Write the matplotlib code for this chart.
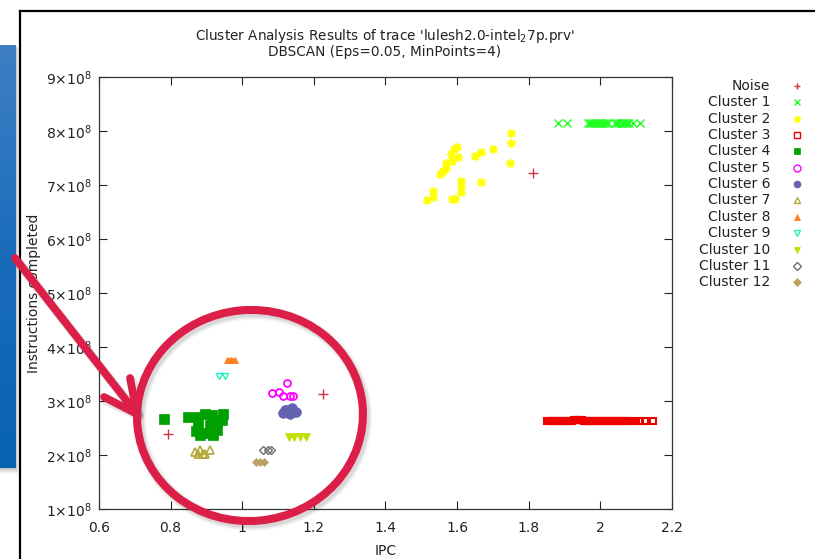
import numpy as np
import matplotlib
matplotlib.use("Agg")
import matplotlib.pyplot as plt
from matplotlib.patches import Ellipse, Rectangle
from matplotlib.colors import LinearSegmentedColormap

# ---------------- data (IPC, instructions in units of 1e8) ----------------
noise_x = [1.812, 1.226, 0.793]
noise_y = [7.22, 3.13, 2.39]

c1_x = [1.882, 1.907, 1.966, 1.970, 1.975, 1.980, 1.985, 1.990, 1.995, 2.000, 2.005, 2.010,
        2.015, 2.020, 2.040, 2.045, 2.050, 2.055, 2.060, 2.065, 2.070, 2.075, 2.080, 2.090,
        2.111]
c1_y = [8.15] * len(c1_x)

c2_x = [1.516, 1.533, 1.533, 1.586, 1.594, 1.611, 1.611, 1.611, 1.667, 1.552, 1.561, 1.569,
        1.569, 1.586, 1.583, 1.603, 1.591, 1.600, 1.650, 1.667, 1.700, 1.751, 1.751, 1.748]
c2_y = [6.72, 6.89, 6.78, 6.74, 6.74, 7.07, 6.98, 6.87, 7.06, 7.20, 7.26, 7.31,
        7.41, 7.44, 7.57, 7.52, 7.67, 7.70, 7.54, 7.61, 7.67, 7.96, 7.78, 7.41]

c3_x = [1.851, 1.855, 1.860, 1.865, 1.870, 1.875, 1.880, 1.885, 1.890, 1.895, 1.900, 1.905,
        1.910, 1.915, 1.920, 1.925, 1.930, 1.935, 1.940, 1.945, 1.950, 1.955, 1.960, 1.965,
        1.970, 1.975, 1.980, 1.985, 1.990, 1.995, 2.000, 2.005, 2.010, 2.015, 2.020, 2.025,
        2.030, 2.035, 2.040, 2.045, 2.050, 2.055, 2.060, 2.065, 2.070, 2.077, 2.088, 2.099,
        2.111, 2.125, 2.147]
c3_y = [2.63] * 15 + [2.65] * 6 + [2.63] * 30

c4_x = [0.782, 0.849, 0.876, 0.896, 0.916, 0.946, 0.943, 0.918, 0.910, 0.876, 0.882, 0.918,
        0.930, 0.902, 0.870, 0.925]
c4_y = [2.67, 2.70, 2.70, 2.76, 2.74, 2.76, 2.65, 2.61, 2.56, 2.52, 2.37, 2.37,
        2.46, 2.41, 2.45, 2.52]

c5_x = [1.125, 1.083, 1.103, 1.114, 1.133, 1.142]
c5_y = [3.33, 3.15, 3.17, 3.09, 3.09, 3.09]

c6_x = [1.119, 1.139, 1.133, 1.114, 1.150, 1.126]
c6_y = [2.83, 2.87, 2.76, 2.78, 2.80, 2.84]

c7_x = [0.868, 0.882, 0.896, 0.910, 0.876, 0.890]
c7_y = [2.06, 2.09, 2.02, 2.10, 2.01, 2.01]

c8_x = [0.957, 0.963, 0.969, 0.975, 0.980]
c8_y = [3.76, 3.76, 3.76, 3.76, 3.76]

c9_x = [0.935, 0.952]
c9_y = [3.46, 3.46]

c10_x = [1.131, 1.145, 1.161, 1.178]
c10_y = [2.33, 2.33, 2.33, 2.33]

c11_x = [1.058, 1.072, 1.080]
c11_y = [2.09, 2.09, 2.09]

c12_x = [1.038, 1.050, 1.061]
c12_y = [1.87, 1.87, 1.87]

labels = ["Noise", "Cluster 1", "Cluster 2", "Cluster 3", "Cluster 4", "Cluster 5",
          "Cluster 6", "Cluster 7", "Cluster 8", "Cluster 9", "Cluster 10",
          "Cluster 11", "Cluster 12"]
x_ticks = [0.6, 0.8, 1.0, 1.2, 1.4, 1.6, 1.8, 2.0, 2.2]
x_tick_labels = ["0.6", "0.8", "1", "1.2", "1.4", "1.6", "1.8", "2", "2.2"]
y_ticks = [1, 2, 3, 4, 5, 6, 7, 8, 9]

series = [
    (noise_x, noise_y, dict(marker="+", color="#cc3344", ms=6.5, mew=1.0, mfc="none")),
    (c1_x, c1_y, dict(marker="x", color="#22ff22", ms=5.5, mew=1.0, mfc="none")),
    (c2_x, c2_y, dict(marker=(8, 2, 0), color="#ffff00", ms=6.5, mew=1.0, mfc="none")),
    (c3_x, c3_y, dict(marker="s", color="#ee0000", ms=5, mew=1.5, mfc="none")),
    (c4_x, c4_y, dict(marker="s", color="#00a000", ms=6.8, mew=0.5, mfc="#00a000")),
    (c5_x, c5_y, dict(marker="o", color="#ff00ff", ms=5, mew=1.3, mfc="none")),
    (c6_x, c6_y, dict(marker="o", color="#6262b0", ms=7, mew=0.5, mfc="#6262b0")),
    (c7_x, c7_y, dict(marker="^", color="#b0a838", ms=5.5, mew=1.2, mfc="none")),
    (c8_x, c8_y, dict(marker="^", color="#ff8020", ms=5, mew=0.5, mfc="#ff8020")),
    (c9_x, c9_y, dict(marker="v", color="#20f0c0", ms=5, mew=1.0, mfc="none")),
    (c10_x, c10_y, dict(marker="v", color="#c0e000", ms=6, mew=0.5, mfc="#c0e000")),
    (c11_x, c11_y, dict(marker="D", color="#707070", ms=4.5, mew=1.0, mfc="none")),
    (c12_x, c12_y, dict(marker="D", color="#bba060", ms=4.5, mew=0.5, mfc="#bba060")),
]

W, H = 815, 559
fig = plt.figure(figsize=(W / 100, H / 100), dpi=100)
fig.patch.set_facecolor("white")

# main axes in pixel placement
L, R, T, B = 99, 672, 77, 509
ax = fig.add_axes([L / W, 1 - B / H, (R - L) / W, (B - T) / H])
for xs, ys, st in series:
    ax.plot(xs, ys, linestyle="none", **st)

ax.set_xlim(0.6, 2.2)
ax.set_ylim(1, 9)
ax.set_xticks(x_ticks)
ax.set_xticklabels(x_tick_labels)
ax.set_yticks(y_ticks)
ax.set_yticklabels([r"$%d{\times}10^{8}$" % v for v in y_ticks])
ax.tick_params(direction="in", length=6, width=0.8, top=True, right=True,
               labelsize=10, colors="#222222")
ax.tick_params(axis="x", pad=9)
ax.tick_params(axis="y", pad=5)
for s in ax.spines.values():
    s.set_linewidth(0.9)
    s.set_color("#333333")
ax.set_xlabel("IPC", fontsize=10, labelpad=6, color="#222222")
ax.set_ylabel("Instructions completed", fontsize=10, labelpad=4, color="#222222")

fig.text(385 / W, 1 - 36 / H, "Cluster Analysis Results of trace 'lulesh2.0-intel$_2$7p.prv'",
         ha="center", va="center", fontsize=9.8, color="#222222")
fig.text(385 / W, 1 - 52 / H, "DBSCAN (Eps=0.05, MinPoints=4)",
         ha="center", va="center", fontsize=9.8, color="#222222")

# overlay axes in pixel coordinates
ov = fig.add_axes([0, 0, 1, 1], zorder=10)
ov.patch.set_alpha(0)

# legend (right-aligned labels, markers to the right)
leg_y0, leg_dy = 86, 16.35
for i, (lab, (xs, ys, st)) in enumerate(zip(labels, series)):
    yy = leg_y0 + i * leg_dy
    ov.text(770, yy, lab, ha="right", va="center", fontsize=10, color="#222222")
    st2 = dict(st)
    st2["ms"] = min(st["ms"], 5.0)
    st2["mew"] = min(st["mew"], 1.0)
    ov.plot([797], [yy], linestyle="none", **st2)

# screenshot frame lines
ov.plot([19.5, 19.5], [H + 2, 11], color="black", lw=1.6, solid_capstyle="projecting")
ov.plot([19.5, W + 2], [11, 11], color="black", lw=1.6, solid_capstyle="projecting")

# blue gradient panel with soft shadow
for k, a in enumerate([0.10, 0.07, 0.04]):
    ov.add_patch(Rectangle((0, 46 + k), 16.5 + k, 424 + k, color="black", alpha=a, lw=0, zorder=1))
grad = np.linspace(0, 1, 256).reshape(-1, 1)
cmap = LinearSegmentedColormap.from_list("bl", ["#3f7fc4", "#1a6cbb", "#0762b2"])
ov.imshow(grad, extent=[0, 15.5, 468, 45], aspect="auto", cmap=cmap, zorder=2)

red = "#dc1f48"
# circle shadow
for k, a in enumerate([0.07, 0.05, 0.03]):
    ov.add_patch(Ellipse((251 + 1.5, 416 + 2.5), 2 * 113, 2 * 105.5, angle=-5, fill=False,
                         ec="black", lw=6 + 2 * k, alpha=a, zorder=3))
ov.add_patch(Ellipse((250, 415.5), 2 * 113, 2 * 105.5, angle=-5, fill=False,
                     ec=red, lw=5.8, zorder=4))

# arrow with open V-head
tip = (137, 414)
start = (15, 258)
barb1 = (130, 378)
barb2 = (104, 397)
for dx, dy, a in [(2, 3, 0.07), (3, 4, 0.04)]:
    for p in [start, barb1, barb2]:
        ov.plot([p[0] + dx, tip[0] + dx - 1], [p[1] + dy, tip[1] + dy - 2], color="black",
                alpha=a, lw=7, solid_capstyle="round", zorder=3)
for p in [start, barb1, barb2]:
    ov.plot([p[0], tip[0]], [p[1], tip[1]], color=red, lw=5.6,
            solid_capstyle="round", zorder=5)

ov.set_xlim(0, W)
ov.set_ylim(H, 0)
ov.axis("off")

fig.savefig("out.png", dpi=100)
